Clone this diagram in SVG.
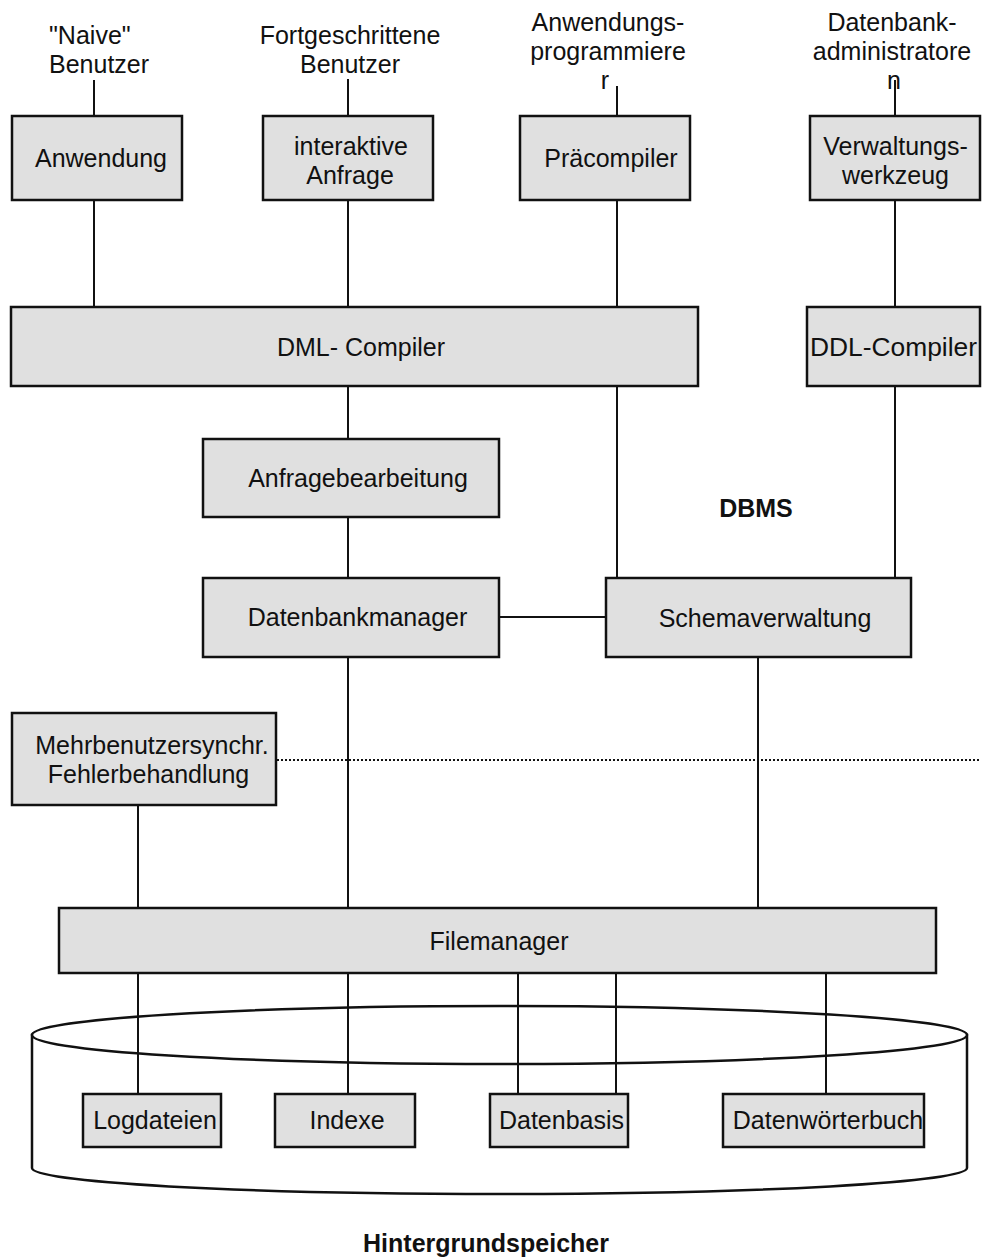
<svg xmlns="http://www.w3.org/2000/svg" width="984" height="1259" viewBox="0 0 984 1259">
<style>
  .box { fill: #e0e0e0; stroke: #111; stroke-width: 2.5; }
  .ln { stroke: #111; stroke-width: 2; fill: none; }
  .dot { stroke: #111; stroke-width: 2; stroke-dasharray: 2 2; fill: none; }
  .cyl { fill: #fff; stroke: #111; stroke-width: 2.5; }
  text { font-family: "Liberation Sans", Arial, sans-serif; font-size: 25px; fill: #111; }
  .c { text-anchor: middle; }
  .b { font-weight: bold; }
</style>
<rect width="984" height="1259" fill="#fff"/>

<g id="hintergrundspeicher">
  <path class="cyl" d="M32,1035 L32,1168 A467.5,26 0 0 0 967,1168 L967,1035 Z"/>
  <ellipse class="cyl" cx="499.5" cy="1035" rx="467.5" ry="29"/>
  <text class="c b" x="486" y="1252">Hintergrundspeicher</text>
</g>

<g id="connectors">
  <line class="ln" x1="94" y1="80" x2="94" y2="116"/>
  <line class="ln" x1="348" y1="79" x2="348" y2="116"/>
  <line class="ln" x1="617" y1="86" x2="617" y2="116"/>
  <line class="ln" x1="895" y1="80" x2="895" y2="116"/>
  <line class="ln" x1="94" y1="200" x2="94" y2="309"/>
  <line class="ln" x1="348" y1="200" x2="348" y2="307"/>
  <line class="ln" x1="617" y1="200" x2="617" y2="578"/>
  <line class="ln" x1="895" y1="200" x2="895" y2="307"/>
  <line class="ln" x1="895" y1="386" x2="895" y2="578"/>
  <line class="ln" x1="348" y1="386" x2="348" y2="439"/>
  <line class="ln" x1="348" y1="517" x2="348" y2="578"/>
  <line class="ln" x1="499" y1="617" x2="606" y2="617"/>
  <line class="ln" x1="348" y1="657" x2="348" y2="908"/>
  <line class="ln" x1="758" y1="657" x2="758" y2="908"/>
  <line class="ln" x1="138" y1="805" x2="138" y2="908"/>
  <line class="dot" x1="277" y1="760" x2="979" y2="760"/>
  <line class="ln" x1="138" y1="973" x2="138" y2="1094"/>
  <line class="ln" x1="348" y1="973" x2="348" y2="1094"/>
  <line class="ln" x1="518" y1="973" x2="518" y2="1094"/>
  <line class="ln" x1="616" y1="973" x2="616" y2="1094"/>
  <line class="ln" x1="826" y1="973" x2="826" y2="1094"/>
</g>

<g id="naive-benutzer">
  <text x="49" y="44">"Naive"</text>
  <text x="49" y="73">Benutzer</text>
</g>
<g id="fortgeschrittene-benutzer">
  <text class="c" x="350" y="44">Fortgeschrittene</text>
  <text class="c" x="350" y="73">Benutzer</text>
</g>
<g id="anwendungsprogrammierer">
  <text class="c" x="608" y="31">Anwendungs-</text>
  <text class="c" x="608" y="60">programmiere</text>
  <text class="c" x="605" y="89">r</text>
</g>
<g id="datenbankadministratoren">
  <text class="c" x="892" y="31">Datenbank-</text>
  <text class="c" x="892" y="60">administratore</text>
  <text class="c" x="894" y="89">n</text>
</g>

<g id="anwendung">
  <rect class="box" x="12" y="116" width="170" height="84"/>
  <text class="c" x="101" y="167">Anwendung</text>
</g>
<g id="interaktive-anfrage">
  <rect class="box" x="263" y="116" width="170" height="84"/>
  <text class="c" x="351" y="155">interaktive</text>
  <text class="c" x="350" y="184">Anfrage</text>
</g>
<g id="praecompiler">
  <rect class="box" x="520" y="116" width="170" height="84"/>
  <text class="c" x="611" y="167">Präcompiler</text>
</g>
<g id="verwaltungswerkzeug">
  <rect class="box" x="810" y="116" width="170" height="84"/>
  <text class="c" x="895.5" y="155">Verwaltungs-</text>
  <text class="c" x="895.5" y="184">werkzeug</text>
</g>
<g id="dml-compiler">
  <rect class="box" x="11" y="307" width="687" height="79"/>
  <text class="c" x="361" y="356">DML- Compiler</text>
</g>
<g id="ddl-compiler">
  <rect class="box" x="807" y="307" width="173" height="79"/>
  <text x="810" y="356" textLength="167" lengthAdjust="spacingAndGlyphs">DDL-Compiler</text>
</g>
<g id="anfragebearbeitung">
  <rect class="box" x="203" y="439" width="296" height="78"/>
  <text class="c" x="358" y="487">Anfragebearbeitung</text>
</g>
<g id="dbms-label">
  <text class="c b" x="756" y="517">DBMS</text>
</g>
<g id="datenbankmanager">
  <rect class="box" x="203" y="578" width="296" height="79"/>
  <text class="c" x="357.5" y="626">Datenbankmanager</text>
</g>
<g id="schemaverwaltung">
  <rect class="box" x="606" y="578" width="305" height="79"/>
  <text class="c" x="765" y="627">Schemaverwaltung</text>
</g>
<g id="mehrbenutzersynchr">
  <rect class="box" x="12" y="713" width="264" height="92"/>
  <text class="c" x="152" y="754">Mehrbenutzersynchr.</text>
  <text class="c" x="148.5" y="783">Fehlerbehandlung</text>
</g>
<g id="filemanager">
  <rect class="box" x="59" y="908" width="877" height="65"/>
  <text class="c" x="499" y="950">Filemanager</text>
</g>
<g id="logdateien">
  <rect class="box" x="83" y="1094" width="138" height="53"/>
  <text class="c" x="155" y="1129">Logdateien</text>
</g>
<g id="indexe">
  <rect class="box" x="275" y="1094" width="140" height="53"/>
  <text class="c" x="347" y="1129">Indexe</text>
</g>
<g id="datenbasis">
  <rect class="box" x="490" y="1094" width="138" height="53"/>
  <text class="c" x="561.5" y="1129">Datenbasis</text>
</g>
<g id="datenwoerterbuch">
  <rect class="box" x="723" y="1094" width="201" height="53"/>
  <text class="c" x="828" y="1129">Datenwörterbuch</text>
</g>
</svg>
